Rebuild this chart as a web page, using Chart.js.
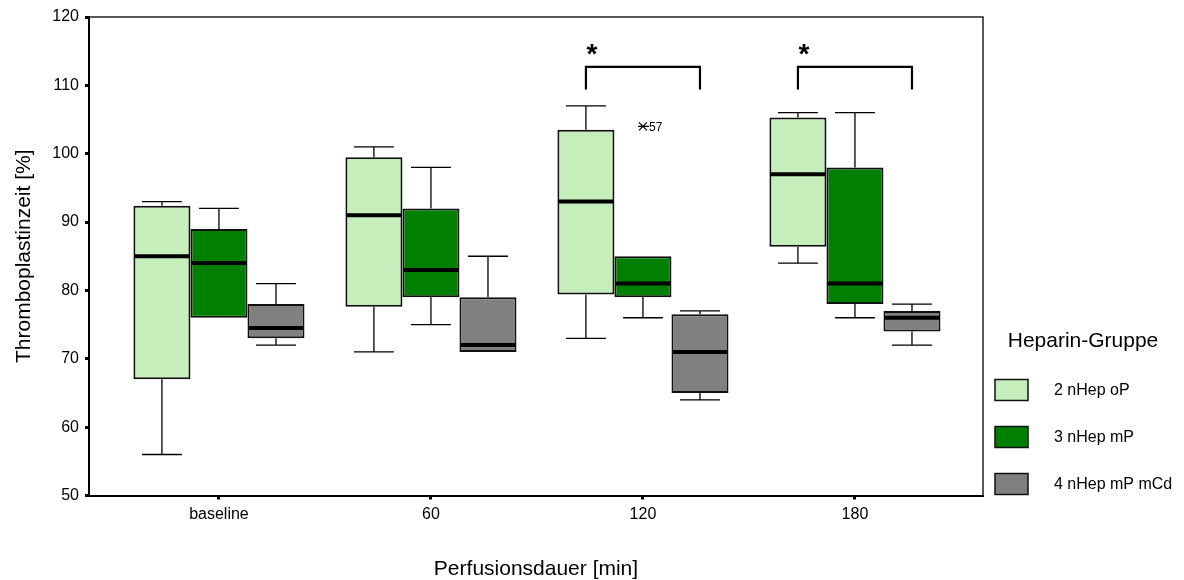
<!DOCTYPE html>
<html>
<head>
<meta charset="utf-8">
<script src="https://cdn.jsdelivr.net/npm/chart.js@4.4.0/dist/chart.umd.min.js"></script>
<style>
  html, body { margin: 0; padding: 0; background: #fff; }
</style>
</head>
<body>
<canvas id="chart" width="1184" height="580"></canvas>
<script>
// Kategorien (Perfusionsdauer)
const categories = ['baseline', '60', '120', '180'];

// 2 nHep oP
const oP_min = [56, 71, 73, 84];
const oP_q1  = [67, 77.6, 79.4, 86.4];
const oP_med = [85, 91, 93, 97];
const oP_q3  = [92.4, 99.5, 103.5, 105.3];
const oP_max = [93, 101, 107, 106];

// 3 nHep mP
const mP_min = [76, 75, 76, 76];
const mP_q1  = [76, 79, 79, 78];
const mP_med = [84, 83, 81, 81];
const mP_q3  = [89, 92, 85, 98];
const mP_max = [92, 98, 85, 106];

// 4 nHep mP mCd
const mCd_min = [72, 71, 64, 72];
const mCd_q1  = [73, 71, 65, 74];
const mCd_med = [74.5, 72, 71, 76];
const mCd_q3  = [78, 79, 76.5, 77];
const mCd_max = [81, 85, 77, 78];

// Ausreisser
const outlierSeries = [1];
const outlierCat = [2];
const outlierValue = [104];
const outlierLabel = ['57'];

// Signifikanz-Klammern
const sigCats = [2, 3];
const sigTop = 112.7;
const sigLeg = 109.4;
const sigStar = 114.4;

const seriesLabels = ['2 nHep oP', '3 nHep mP', '4 nHep mP mCd'];
const seriesColors = ['#c5eebb', '#007f00', '#808080'];
const boxStats = [
    { min: oP_min, q1: oP_q1, med: oP_med, q3: oP_q3, max: oP_max },
    { min: mP_min, q1: mP_q1, med: mP_med, q3: mP_q3, max: mP_max },
    { min: mCd_min, q1: mCd_q1, med: mCd_med, q3: mCd_q3, max: mCd_max }
];

const FONT = 'Liberation Sans, Arial, Helvetica, sans-serif';

// Whisker, Median, Ausreisser und Klammern
const boxPlugin = {
    id: 'boxWhiskers',
    afterDatasetsDraw(chart) {
        const ctx = chart.ctx;
        const y = chart.scales.y;
        boxStats.forEach((st, di) => {
            const meta = chart.getDatasetMeta(di);
            meta.data.forEach((bar, i) => {
                const p = bar.getProps(['x', 'y', 'base', 'width'], true);
                const top = Math.min(p.y, p.base);
                const bottom = Math.max(p.y, p.base);
                const half = p.width / 2;
                const cap = p.width * 0.35;
                ctx.save();
                ctx.strokeStyle = '#000';
                ctx.lineWidth = 1.3;
                const yMax = y.getPixelForValue(st.max[i]);
                const yMin = y.getPixelForValue(st.min[i]);
                if (yMax < top - 0.5) {
                    ctx.beginPath();
                    ctx.moveTo(p.x, top); ctx.lineTo(p.x, yMax);
                    ctx.moveTo(p.x - cap, yMax); ctx.lineTo(p.x + cap, yMax);
                    ctx.stroke();
                }
                if (yMin > bottom + 0.5) {
                    ctx.beginPath();
                    ctx.moveTo(p.x, bottom); ctx.lineTo(p.x, yMin);
                    ctx.moveTo(p.x - cap, yMin); ctx.lineTo(p.x + cap, yMin);
                    ctx.stroke();
                }
                const ym = y.getPixelForValue(st.med[i]);
                ctx.lineWidth = 4;
                ctx.beginPath();
                ctx.moveTo(p.x - half + 1, ym); ctx.lineTo(p.x + half - 1, ym);
                ctx.stroke();
                ctx.restore();
            });
        });

        // Ausreisser
        outlierSeries.forEach((s, k) => {
            const bar = chart.getDatasetMeta(s).data[outlierCat[k]];
            const cx = bar.x;
            const cy = y.getPixelForValue(outlierValue[k]);
            ctx.save();
            ctx.strokeStyle = '#000';
            ctx.lineWidth = 1.2;
            ctx.beginPath();
            ctx.moveTo(cx - 4, cy - 4); ctx.lineTo(cx + 4, cy + 4);
            ctx.moveTo(cx - 4, cy + 4); ctx.lineTo(cx + 4, cy - 4);
            ctx.moveTo(cx - 5, cy); ctx.lineTo(cx + 6, cy);
            ctx.stroke();
            ctx.fillStyle = '#000';
            ctx.font = '12px ' + FONT;
            ctx.textBaseline = 'middle';
            ctx.fillText(outlierLabel[k], cx + 6, cy + 1);
            ctx.restore();
        });

        // Klammern mit Stern
        sigCats.forEach(ci => {
            const xl = chart.getDatasetMeta(0).data[ci].x;
            const xr = chart.getDatasetMeta(2).data[ci].x;
            const yt = y.getPixelForValue(sigTop);
            const yl = y.getPixelForValue(sigLeg);
            ctx.save();
            ctx.strokeStyle = '#000';
            ctx.lineWidth = 2.2;
            ctx.beginPath();
            ctx.moveTo(xl, yl); ctx.lineTo(xl, yt); ctx.lineTo(xr, yt); ctx.lineTo(xr, yl);
            ctx.stroke();
            ctx.fillStyle = '#000';
            ctx.font = 'bold 28px ' + FONT;
            ctx.textAlign = 'center';
            ctx.textBaseline = 'middle';
            ctx.fillText('*', xl + 6, y.getPixelForValue(sigStar));
            ctx.restore();
        });
    },
    afterDraw(chart) {
        const ctx = chart.ctx;
        const a = chart.chartArea;
        // Rahmen oben und rechts
        ctx.save();
        ctx.strokeStyle = '#222';
        ctx.lineWidth = 1.5;
        ctx.beginPath();
        ctx.moveTo(a.left, a.top); ctx.lineTo(a.right, a.top); ctx.lineTo(a.right, a.bottom);
        ctx.stroke();

        // Legende
        ctx.fillStyle = '#000';
        ctx.font = '21px ' + FONT;
        ctx.textAlign = 'center';
        ctx.textBaseline = 'middle';
        ctx.fillText('Heparin-Gruppe', 1083, 341);
        ctx.textAlign = 'left';
        ctx.font = '16px ' + FONT;
        chart.data.datasets.forEach((ds, i) => {
            const top = 379.5 + i * 47;
            ctx.fillStyle = ds.backgroundColor;
            ctx.fillRect(995, top, 33, 21);
            ctx.strokeStyle = '#111';
            ctx.lineWidth = 1.5;
            ctx.strokeRect(995, top, 33, 21);
            ctx.fillStyle = '#000';
            ctx.fillText(ds.label, 1054, top + 11);
        });
        ctx.restore();
    }
};

const datasets = boxStats.map((st, di) => ({
    label: seriesLabels[di],
    data: categories.map((c, i) => ({ x: i, y: [st.q1[i], st.q3[i]] })),
    backgroundColor: seriesColors[di],
    borderColor: '#111',
    borderWidth: 2,
    borderSkipped: false,
    categoryPercentage: 0.807,
    barPercentage: 1
}));

new Chart(document.getElementById('chart'), {
    type: 'bar',
    data: { datasets: datasets },
    options: {
        responsive: false,
        animation: false,
        layout: { padding: { top: 17, right: 201, left: 0, bottom: 0 } },
        plugins: {
            legend: { display: false },
            tooltip: { enabled: false }
        },
        scales: {
            x: {
                type: 'linear',
                offset: false,
                min: -0.613,
                max: 3.604,
                afterFit(scale) { scale.height = 84.5; },
                afterBuildTicks(scale) {
                    scale.ticks = categories.map((c, i) => ({ value: i }));
                },
                grid: { display: true, offset: false, drawOnChartArea: false, drawTicks: true, tickLength: 4, tickWidth: 3, tickColor: '#000' },
                border: { display: true, color: '#000', width: 2 },
                ticks: {
                    color: '#000',
                    font: { family: FONT, size: 16 },
                    padding: 5,
                    maxRotation: 0,
                    callback: v => categories[v] !== undefined ? categories[v] : ''
                },
                title: {
                    display: true,
                    text: 'Perfusionsdauer [min]',
                    color: '#000',
                    font: { family: FONT, size: 21, lineHeight: 1 },
                    padding: { top: 0, bottom: 0 }
                }
            },
            y: {
                min: 50,
                max: 120,
                afterFit(scale) { scale.width = 89; },
                grid: { display: true, drawOnChartArea: false, drawTicks: true, tickLength: 4, tickWidth: 3, tickColor: '#000' },
                border: { display: true, color: '#000', width: 2 },
                ticks: {
                    stepSize: 10,
                    color: '#000',
                    font: { family: FONT, size: 16 },
                    padding: 6
                },
                title: {
                    display: true,
                    text: 'Thromboplastinzeit [%]',
                    color: '#000',
                    font: { family: FONT, size: 21, lineHeight: 1 },
                    padding: { top: 13.5, bottom: 0 }
                }
            }
        }
    },
    plugins: [boxPlugin]
});
</script>
</body>
</html>
